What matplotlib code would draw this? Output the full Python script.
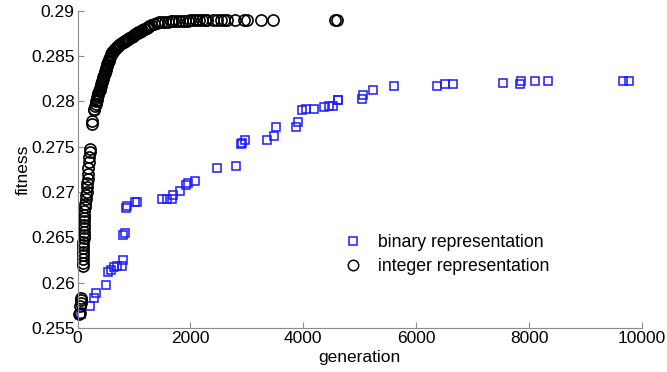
import matplotlib.pyplot as plt
from matplotlib.lines import Line2D

plt.rcParams['font.family'] = ['Liberation Sans', 'DejaVu Sans']

# binary representation (blue squares)
bin_gen = [59, 219, 297, 320, 504, 545, 600, 640, 700, 790, 810, 812, 843, 860, 872,
           1020, 1050, 1494, 1580, 1670, 1700, 1820, 1930, 1960, 2087, 2473, 2799,
           2888, 2920, 2965, 3362, 3481, 3511, 3866, 3914, 3985, 4050, 4193, 4370,
           4450, 4520, 4608, 4620, 5034, 5062, 5228, 5611, 6361, 6508, 6644, 7530,
           7836, 7865, 8101, 8337, 9664, 9765]
bin_fit = [0.2565, 0.2574, 0.2583, 0.2589, 0.2597, 0.2612, 0.2614, 0.2617, 0.2618,
           0.2618, 0.2625, 0.2653, 0.2655, 0.2682, 0.2685, 0.2689, 0.2689, 0.2692,
           0.2692, 0.2692, 0.2697, 0.2701, 0.2708, 0.2710, 0.2712, 0.2726, 0.2729,
           0.2753, 0.2754, 0.2757, 0.2757, 0.2762, 0.2772, 0.2772, 0.2777, 0.2791,
           0.2792, 0.2792, 0.2794, 0.2795, 0.2795, 0.2802, 0.2802, 0.2803, 0.2807,
           0.2813, 0.2817, 0.2817, 0.2819, 0.2819, 0.2820, 0.2819, 0.2822, 0.2822,
           0.2822, 0.2822, 0.2822]

# integer representation (black circles)
int_gen = [20, 40, 45, 55, 60, 70,
           98, 100, 101, 102, 103, 104, 105, 106, 107, 108, 109, 110, 111, 112, 114,
           116, 118,
           130, 138, 145, 152, 160, 166, 172, 178, 185, 192, 200, 207, 214, 220,
           250, 262,
           290, 300, 310, 320, 330, 340, 350, 360, 370, 380, 390, 400, 410, 420, 430,
           440, 450, 460, 470, 480, 490, 500, 510, 520, 530, 540, 550, 560, 575,
           590, 600, 615, 630, 645, 660, 680, 700, 720, 740, 760, 780, 800, 820, 840,
           860, 880, 900, 920, 940, 960, 980, 1000, 1020, 1040, 1060, 1080, 1100,
           1125, 1150, 1175, 1200, 1225, 1250, 1275, 1300, 1350, 1400, 1450, 1500,
           1550, 1600, 1650, 1700, 1750, 1800, 1850, 1900, 1950, 2000, 2050, 2100,
           2150, 2200, 2260, 2300, 2400, 2480, 2550, 2600, 2650, 2790, 2950, 3000,
           3250, 3460, 4560, 4600]
int_fit = [0.2565, 0.2566, 0.2574, 0.2578, 0.2581, 0.2583,
           0.2618, 0.2622, 0.2626, 0.2630, 0.2634, 0.2638, 0.2641, 0.2645, 0.2649,
           0.2653, 0.2656, 0.2660, 0.2664, 0.2668, 0.2671, 0.2675, 0.2679,
           0.2683, 0.2687, 0.2692, 0.2697, 0.2700, 0.2706, 0.2710, 0.2714, 0.2720,
           0.2727, 0.2733, 0.2739, 0.2744, 0.2747,
           0.2775, 0.2778,
           0.2790, 0.2792, 0.2795, 0.2797, 0.2800, 0.2802, 0.2805, 0.2807, 0.2809,
           0.2811, 0.2813, 0.2815, 0.2817, 0.2819, 0.2821, 0.2823, 0.2825, 0.2827,
           0.2829, 0.2831, 0.2833, 0.2835, 0.2837, 0.2839, 0.2841, 0.2843, 0.2845,
           0.2847, 0.2849, 0.2851, 0.2852, 0.2854, 0.2855, 0.2857, 0.2858, 0.2859,
           0.2860, 0.2861, 0.2862, 0.2863, 0.2864, 0.2865, 0.2866, 0.2867, 0.2868,
           0.2868, 0.2869, 0.2870, 0.2871, 0.2871, 0.2872, 0.2873, 0.2874, 0.2874,
           0.2875, 0.2876, 0.2877, 0.2878, 0.2879, 0.2880, 0.2880, 0.2881, 0.2882,
           0.2883, 0.2884, 0.2885, 0.2886, 0.2887, 0.2888, 0.2888, 0.2888, 0.2889,
           0.2889, 0.2889, 0.2889, 0.2889, 0.2889, 0.2889, 0.2890, 0.2890, 0.2890,
           0.2890, 0.2890, 0.2890, 0.2890, 0.2890, 0.2890, 0.2890, 0.2890, 0.2890,
           0.2890, 0.2890, 0.2890, 0.2890, 0.2890, 0.2890, 0.2890]

fig = plt.figure(figsize=(6.67, 3.72), dpi=100)
ax = fig.add_axes([0.1162, 0.1183, 0.8463, 0.8529])

ax.plot(bin_gen, bin_fit, 's', ms=6, mfc='none', mec='#1a1aff', mew=1.1, clip_on=False)
ax.plot(int_gen, int_fit, 'o', ms=8, mfc='none', mec='black', mew=1.2, clip_on=False)

ax.set_xlim(0, 10000)
ax.set_ylim(0.255, 0.29)
ax.set_xticks([0, 2000, 4000, 6000, 8000, 10000])
ax.set_yticks([0.255, 0.26, 0.265, 0.27, 0.275, 0.28, 0.285, 0.29])
ax.set_yticklabels(['0.255', '0.26', '0.265', '0.27', '0.275', '0.28', '0.285', '0.29'])

for s in ['top', 'right']:
    ax.spines[s].set_visible(False)
for s in ['left', 'bottom']:
    ax.spines[s].set_color('#8c8c8c')
    ax.spines[s].set_linewidth(0.8)
ax.tick_params(direction='in', length=4, color='#8c8c8c', labelsize=12.5, pad=2)

ax.set_xlabel('generation', fontsize=12.5, labelpad=3)
ax.set_ylabel('fitness', fontsize=12.5, labelpad=0)

handles = [Line2D([], [], ls='none', marker='s', ms=6, mfc='none', mec='#1a1aff', mew=1.1),
           Line2D([], [], ls='none', marker='o', ms=7.5, mfc='none', mec='black', mew=1.1)]
ax.legend(handles, ['binary representation', 'integer representation'],
          loc='center left', bbox_to_anchor=(0.444, 0.232), frameon=False,
          fontsize=12.7, handlelength=1.0, handletextpad=0.9, labelspacing=0.4)

fig.savefig('out.png')
